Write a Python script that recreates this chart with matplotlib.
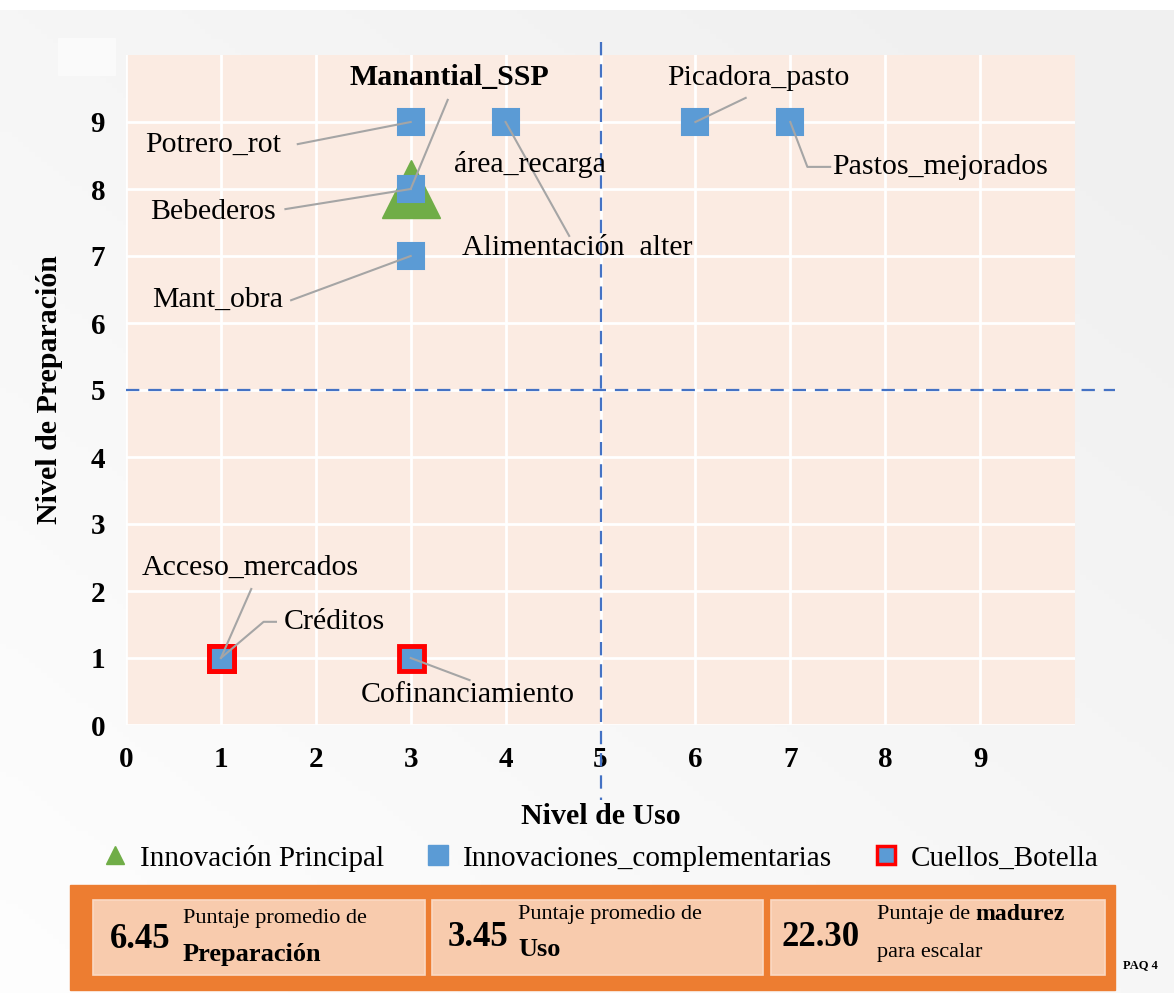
import numpy as np
import matplotlib.pyplot as plt
from matplotlib.patches import Rectangle
from matplotlib.lines import Line2D

plt.rcParams['font.family'] = ['Liberation Serif', 'DejaVu Serif']

# data
main_name = ['Manantial_SSP']
main_x = [3]
main_y = [8]

comp_names = ['Potrero_rot', 'Alimentación  alter', 'Picadora_pasto', 'Pastos_mejorados',
              'Bebederos', 'Mant_obra']
comp_x = [3, 4, 6, 7, 3, 3]
comp_y = [9, 9, 9, 9, 8, 7]

bott_names = ['Acceso_mercados', 'Créditos', 'Cofinanciamiento']
bott_x = [1, 1, 3]
bott_y = [1, 1, 1]

ticks = [0, 1, 2, 3, 4, 5, 6, 7, 8, 9]
scores = ['6.45', '3.45', '22.30']

BLUE = '#5B9BD5'
GREEN = '#70AD47'
RED = '#FF0000'
GREY = '#A5A5A5'
FS = 21.5

fig = plt.figure(figsize=(11.74, 9.93), dpi=100)
fig.patch.set_facecolor('white')

# soft background gradient (white bottom-left to light grey top-right)
bg = fig.add_axes([0, 0, 1, 0.99], zorder=-10)
gx, gy = np.meshgrid(np.linspace(0, 1, 200), np.linspace(0, 1, 200))
v = 0.995 - 0.05 * np.clip(0.55 * gx + 0.6 * gy, 0, 1)
bg.imshow(np.dstack([v, v, v]), extent=[0, 1, 0, 1], aspect='auto', origin='lower')
bg.axis('off')
fig.add_artist(Rectangle((58/1174, 1-75/993), 57/1174, 37/993, transform=fig.transFigure, color='#FAFAFA'))

ax = fig.add_axes([126/1174, 1-725/993, 949/1174, 670/993])
ax.set_facecolor('#FBEBE2')
ax.set_xlim(0, 10)
ax.set_ylim(0, 10)
ax.set_xticks(ticks)
ax.set_yticks(ticks)
ax.grid(True, color='white', lw=2)
ax.set_axisbelow(True)
for s in ax.spines.values():
    s.set_visible(False)
ax.tick_params(length=0, labelsize=21, pad=15)
for lb in ax.get_xticklabels() + ax.get_yticklabels():
    lb.set_fontweight('bold')
ax.set_xlabel('Nivel de Uso', fontsize=21.5, fontweight='bold', labelpad=22)
ax.set_ylabel('Nivel de Preparación', fontsize=21.5, fontweight='bold', labelpad=20)

# quadrant lines
ax.plot([5, 5], [10.19, -1.12], ls=(0, (6, 4)), color='#4472C4', lw=1.6, clip_on=False, zorder=2)
ax.plot([0, 10.42], [5, 5], ls=(0, (6, 4)), color='#4472C4', lw=1.6, clip_on=False, zorder=2)

# series
ax.plot(main_x, main_y, '^', ms=42, color=GREEN, zorder=3, clip_on=False)
ax.plot(comp_x, comp_y, 's', ms=19, color=BLUE, mew=1.5, mec=BLUE, zorder=4, clip_on=False)
ax.plot(bott_x, bott_y, 's', ms=18, color=BLUE, mec=RED, mew=3.5, zorder=4, clip_on=False)

# labels: (text, point, text position, weight, leader start)
ann = [
    ('Manantial_SSP', (3, 8), (3.41, 9.66), 'bold', (3.39, 9.33)),
    ('Potrero_rot', (3, 9), (0.92, 8.66), 'normal', (1.81, 8.67)),
    ('Bebederos', (3, 8), (0.92, 7.66), 'normal', (1.68, 7.7)),
    ('Mant_obra', (3, 7), (0.97, 6.34), 'normal', (1.74, 6.34)),
    ('Alimentación  alter', (4, 9), (4.76, 7.12), 'normal', (4.67, 7.3)),
    ('Picadora_pasto', (6, 9), (6.66, 9.66), 'normal', (6.53, 9.36)),
    ('Acceso_mercados', (1, 1), (1.31, 2.34), 'normal', (1.32, 2.03)),
    ('Cofinanciamiento', (3, 1), (3.6, 0.45), 'normal', (3.62, 0.67)),
]
for txt, pt, tp, w, ls in ann:
    ax.text(tp[0], tp[1], txt, fontsize=FS, fontweight=w, ha='center', va='center', zorder=6)
    ax.plot([ls[0], pt[0]], [ls[1], pt[1]], color=GREY, lw=1.5, zorder=5)

ax.text(4.26, 8.36, 'área_recarga', fontsize=FS, ha='center', va='center', zorder=6)
ax.text(8.58, 8.33, 'Pastos_mejorados', fontsize=FS, ha='center', va='center', zorder=6)
ax.plot([7, 7.18, 7.42], [9, 8.33, 8.33], color=GREY, lw=1.5, zorder=5)
ax.text(2.2, 1.54, 'Créditos', fontsize=FS, ha='center', va='center', zorder=6)
ax.plot([1.58, 1.45, 1.0], [1.54, 1.54, 1.0], color=GREY, lw=1.5, zorder=5)

# legend
handles = [
    Line2D([], [], marker='^', ls='', ms=13, color=GREEN),
    Line2D([], [], marker='s', ls='', ms=14, color=BLUE),
    Line2D([], [], marker='s', ls='', ms=13, color=BLUE, mec=RED, mew=2.5),
]
fig.legend(handles, ['Innovación Principal', 'Innovaciones_complementarias', 'Cuellos_Botella'],
           loc='center', bbox_to_anchor=(0.51, 1-858/993), ncol=3, frameon=False,
           fontsize=21, handletextpad=0.3, columnspacing=1.3, handlelength=1.1)

# score boxes
fig.add_artist(Rectangle((70/1174, 1-990/993), 1045/1174, 105/993,
                         transform=fig.transFigure, color='#ED7D31'))
box_x = [93, 432, 771]
box_w = [332, 331, 334]
for bx, bw in zip(box_x, box_w):
    fig.add_artist(Rectangle((bx/1174, 1-975/993), bw/1174, 75/993, transform=fig.transFigure,
                             facecolor='#F8CBAD', edgecolor='#FBD9C3', lw=1.2))

SF = 16
fig.text(140/1174, 1-940/993, scores[0], fontsize=25, fontweight='bold', ha='center', va='center')
fig.text(183/1174, 1-918/993, 'Puntaje promedio de', fontsize=SF, ha='left', va='center')
fig.text(183/1174, 1-955/993, 'Preparación', fontsize=19, fontweight='bold', ha='left', va='center')

fig.text(478/1174, 1-938/993, scores[1], fontsize=25, fontweight='bold', ha='center', va='center')
fig.text(518/1174, 1-914/993, 'Puntaje promedio de', fontsize=SF, ha='left', va='center')
fig.text(518/1174, 1-950/993, 'Uso', fontsize=19, fontweight='bold', ha='left', va='center')

fig.text(821/1174, 1-938/993, scores[2], fontsize=25, fontweight='bold', ha='center', va='center')
t = fig.text(877/1174, 1-914/993, 'Puntaje de ', fontsize=SF, ha='left', va='center')
fig.canvas.draw()
ext = t.get_window_extent()
fig.text(ext.x1 / fig.bbox.width, 1-914/993, 'madurez', fontsize=SF + 1, fontweight='bold',
         ha='left', va='center')
fig.text(877/1174, 1-953/993, 'para escalar', fontsize=SF, ha='left', va='center')

fig.text(1140/1174, 1-965/993, 'PAQ 4', fontsize=9, fontweight='bold', ha='center', va='center')

fig.savefig('out.png', dpi=100, facecolor=fig.get_facecolor())
